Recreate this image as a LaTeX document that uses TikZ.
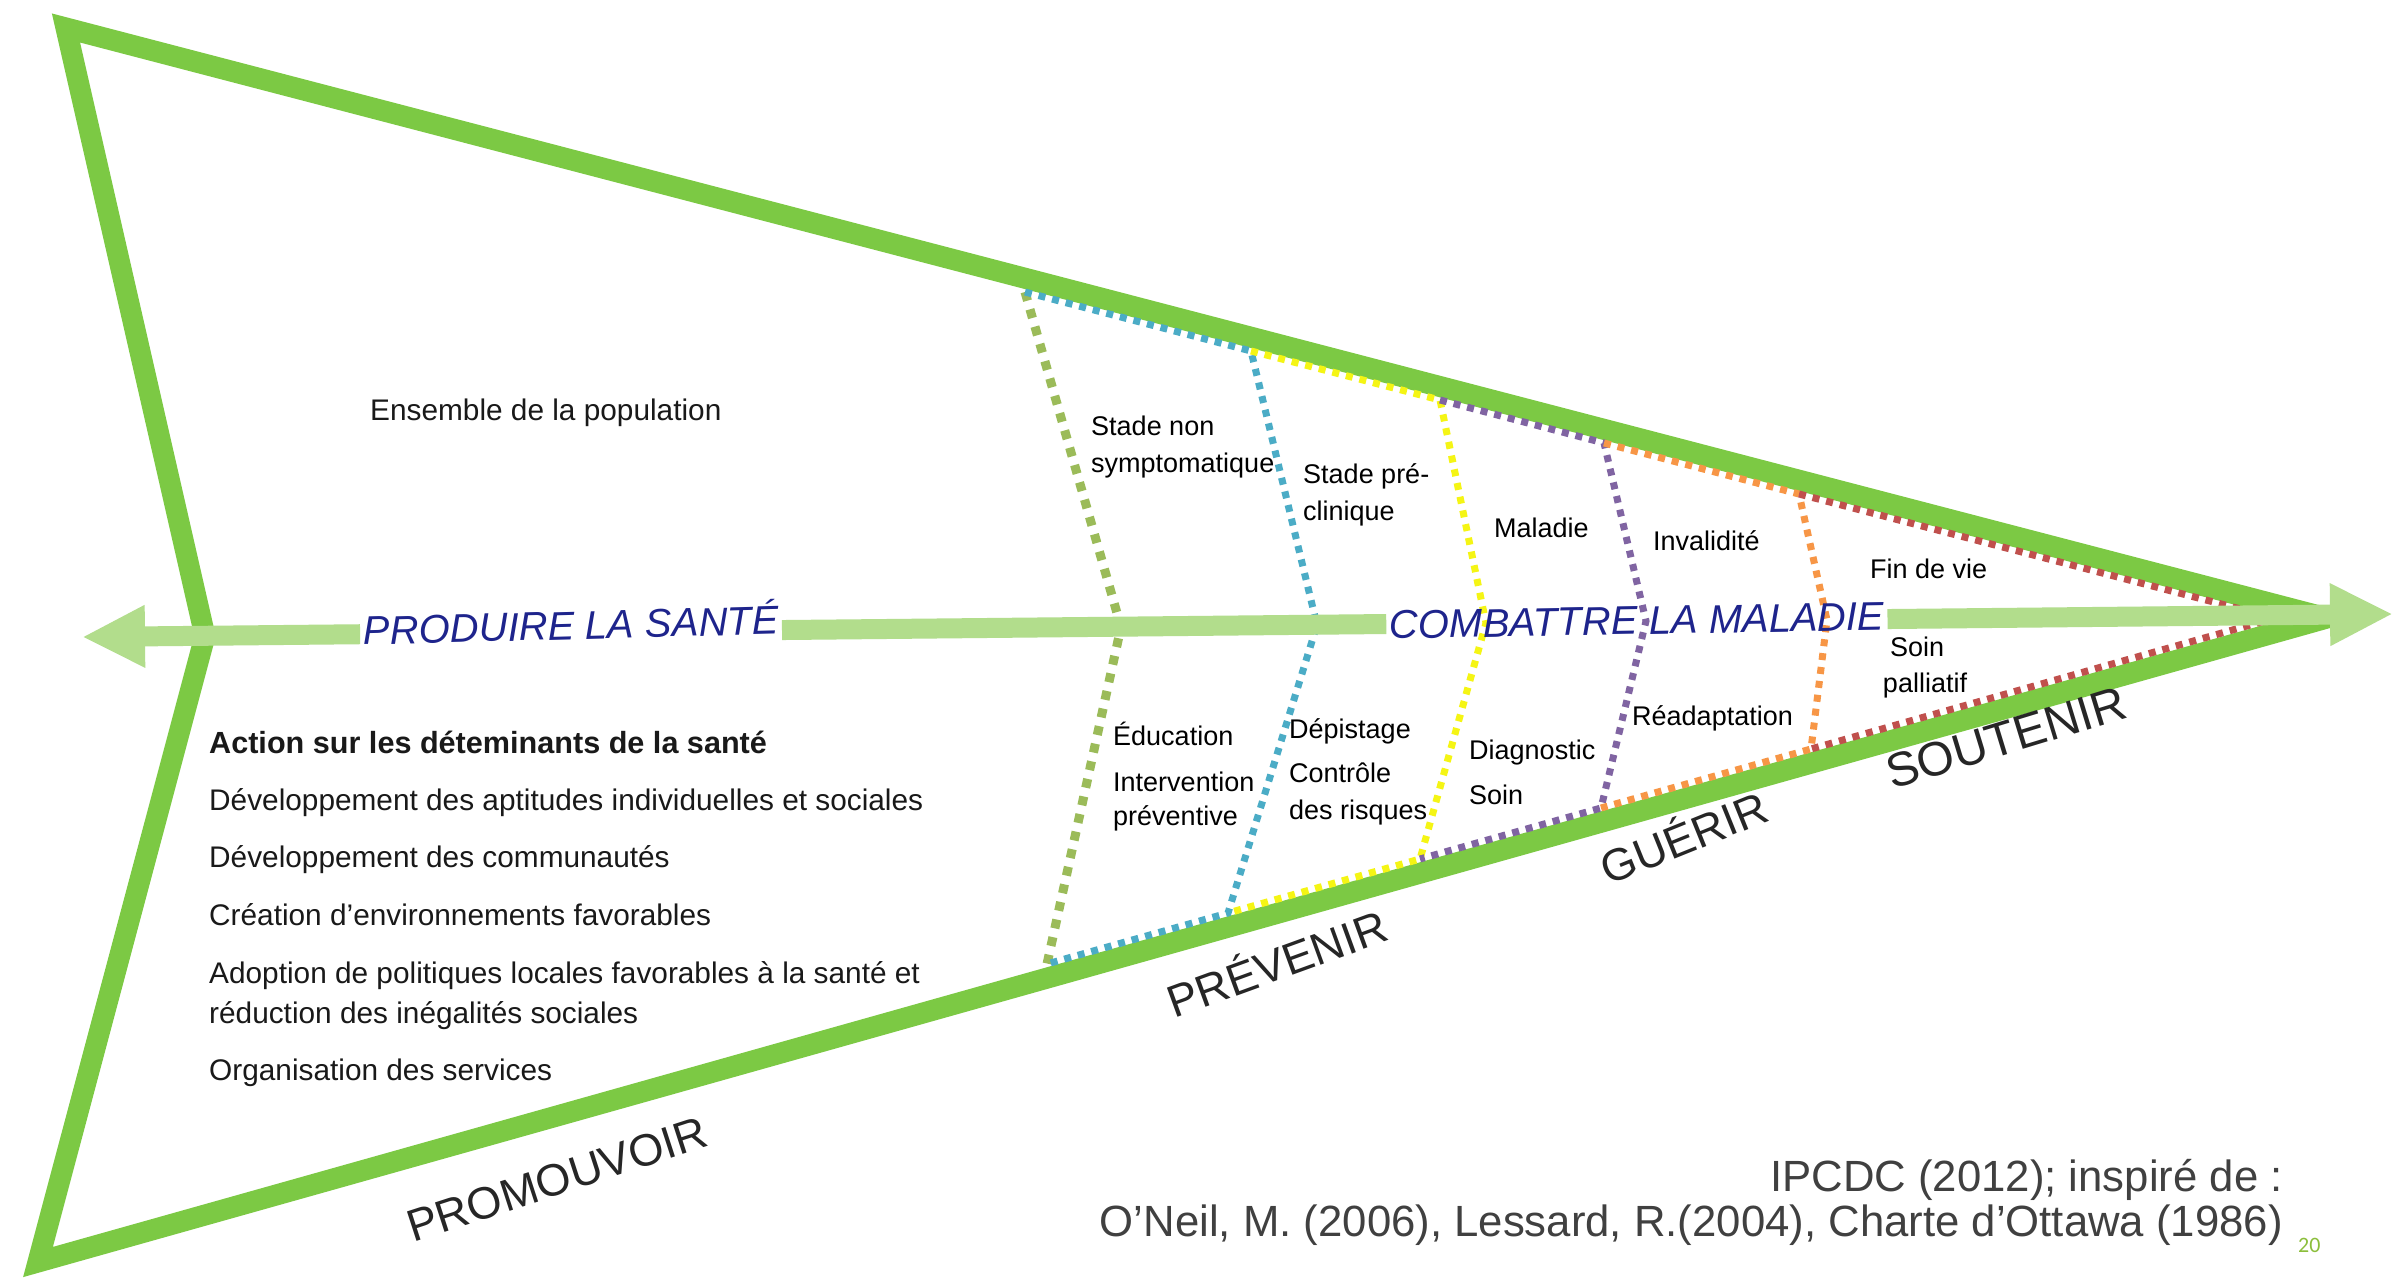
\documentclass[tikz,border=0pt]{standalone}
\usepackage{fontspec}
\setmainfont{Liberation Sans}
\newfontfamily\pagenumfont{Carlito}
\usetikzlibrary{arrows.meta,calc}
\definecolor{edgegreen}{RGB}{124,201,68}
\definecolor{arrowgreen}{RGB}{178,221,140}
\definecolor{dotgreen}{RGB}{155,187,89}
\definecolor{dotblue}{RGB}{75,172,198}
\definecolor{dotyellow}{RGB}{245,245,20}
\definecolor{dotpurple}{RGB}{128,100,162}
\definecolor{dotorange}{RGB}{247,150,70}
\definecolor{dotred}{RGB}{192,80,77}
\definecolor{titleblue}{RGB}{30,36,140}
\definecolor{citegray}{RGB}{64,64,64}
\definecolor{numgreen}{RGB}{140,190,60}
\begin{document}
\begin{tikzpicture}[x=1pt,y=-1pt,
  edge/.style={draw=edgegreen, line width=21pt, line join=miter, miter limit=20},
  stagedots/.style={line width=7pt, dash pattern=on 7pt off 7pt},
  shaft/.style={draw=arrowgreen, line width=20pt},
  title/.style={font=\fontsize{40pt}{44pt}\selectfont\itshape, text=titleblue, inner sep=3pt, text height=29pt, text depth=0pt},
  verb/.style={font=\fontsize{45pt}{50pt}\selectfont, text=black!85, inner sep=0pt, text height=32pt, text depth=0pt},
  stagelbl/.style={font=\fontsize{27pt}{32pt}\selectfont, anchor=base west, inner sep=0pt},
  leftlbl/.style={font=\fontsize{29.8pt}{34pt}\selectfont, anchor=base west, inner sep=0pt, text=black!90},
  citelbl/.style={font=\fontsize{43.7pt}{48pt}\selectfont, anchor=base east, inner sep=0pt, text=citegray}
]
\useasboundingbox (0,0) rectangle (2407,1287);
\fill[white] (0,0) rectangle (2407,1287);

% outer arrow-shaped frame
\coordinate (TL) at (66,28);
\coordinate (TIP) at (2327,618);
\coordinate (BL) at (38,1262);
\coordinate (NOTCH) at (205,636);
\draw[edge] (TL) -- (TIP) -- (BL) -- (NOTCH) -- cycle;

% stage boundaries
\coordinate (cGt) at (1025,292); \coordinate (cGm) at (1121,627); \coordinate (cGb) at (1047,964);
\coordinate (cBt) at (1251,351); \coordinate (cBm) at (1317,625); \coordinate (cBb) at (1228,913);
\coordinate (cYt) at (1440,400); \coordinate (cYm) at (1486,623); \coordinate (cYb) at (1420,859);
\coordinate (cPt) at (1604,443); \coordinate (cPm) at (1646,621); \coordinate (cPb) at (1601,808);
\coordinate (cOt) at (1799,494); \coordinate (cOm) at (1827,620); \coordinate (cOb) at (1811,749);
\coordinate (cRt) at (2275,618);

\draw[dotgreen, line width=9pt, dash pattern=on 9pt off 9pt] (cGt) -- (cGm) -- (cGb);
\draw[stagedots, dotblue] (cGt) -- (cBt) -- (cBm) -- (cBb) -- (cGb);
\draw[stagedots, dotyellow] (cBt) -- (cYt) -- (cYm) -- (cYb) -- (cBb);
\draw[stagedots, dotpurple] (cYt) -- (cPt) -- (cPm) -- (cPb) -- (cYb);
\draw[stagedots, dotorange] (cPt) -- (cOt) -- (cOm) -- (cOb) -- (cPb);
\draw[stagedots, dotred] (cOt) -- (cRt) -- (cOb);

% titles on the axis
\node[title, rotate=1.5] (prod) at (571,625) {PRODUIRE LA SANTÉ};
\node[title, rotate=1] (comb) at (1637,620) {COMBATTRE LA MALADIE};

% axis arrow
\coordinate (L) at (82,637);
\coordinate (R) at (2393,614);
\draw[shaft, {Triangle[length=63pt,width=58pt]}-] (L) -- ($(L)!(prod.west)!(R)$);
\draw[shaft] ($(L)!(prod.east)!(R)$) -- ($(L)!(comb.west)!(R)$);
\draw[shaft, -{Triangle[length=63pt,width=58pt]}] ($(L)!(comb.east)!(R)$) -- (R);

% stage labels
\node[stagelbl] (s1a) at (1091,435) {Stade non};
\node[stagelbl] (s1b) at (1091,472) {symptomatique};
\node[stagelbl] (s2a) at (1303,483) {Stade pré-};
\node[stagelbl] (s2b) at (1303,520) {clinique};
\node[stagelbl] (s3) at (1494,537) {Maladie};
\node[stagelbl] (s4) at (1653,550) {Invalidité};
\node[stagelbl] (s5) at (1870,578) {Fin de vie};
\node[stagelbl, anchor=base] (a5a) at (1917,656) {Soin};
\node[stagelbl, anchor=base] (a5b) at (1925,692) {palliatif};
\node[stagelbl] (a1a) at (1113,745) {Éducation};
\node[stagelbl] (a1b) at (1113,791) {Intervention};
\node[stagelbl] (a1c) at (1113,825) {préventive};
\node[stagelbl] (a2a) at (1289,738) {Dépistage};
\node[stagelbl] (a2b) at (1289,782) {Contrôle};
\node[stagelbl] (a2c) at (1289,819) {des risques};
\node[stagelbl] (a3a) at (1469,759) {Diagnostic};
\node[stagelbl] (a3b) at (1469,804) {Soin};
\node[stagelbl] (a4) at (1632,725) {Réadaptation};

% left texts
\node[leftlbl] (pop) at (370,420) {Ensemble de la population};
\node[leftlbl, font=\fontsize{30.6pt}{34pt}\selectfont\bfseries] (det) at (209,753) {Action sur les déteminants de la santé};
\node[leftlbl] (l1) at (209,810) {Développement des aptitudes individuelles et sociales};
\node[leftlbl] (l2) at (209,867) {Développement des communautés};
\node[leftlbl] (l3) at (209,925) {Création d’environnements favorables};
\node[leftlbl] (l4a) at (209,983) {Adoption de politiques locales favorables à la santé et};
\node[leftlbl] (l4b) at (209,1023) {réduction des inégalités sociales};
\node[leftlbl] (l5) at (209,1080) {Organisation des services};

% verbs along the bottom edge
\node[verb, rotate=18] (promo) at (557,1179) {PROMOUVOIR};
\node[verb, rotate=20] (prev) at (1277,964) {PRÉVENIR};
\node[verb, rotate=22] (guer) at (1684,838) {GUÉRIR};
\node[verb, rotate=17, font=\fontsize{48pt}{52pt}\selectfont] (sout) at (2006,738) {SOUTENIR};

% citation
\node[citelbl] (cit1) at (2283,1191) {IPCDC (2012); inspiré de :};
\node[citelbl] (cit2) at (2283,1236) {O'Neil, M. (2006), Lessard, R.(2004), Charte d'Ottawa (1986)};
\node[font=\fontsize{22pt}{24pt}\pagenumfont, text=numgreen, anchor=base west, inner sep=0pt] (pnum) at (2298,1252) {20};
\end{tikzpicture}
\end{document}
